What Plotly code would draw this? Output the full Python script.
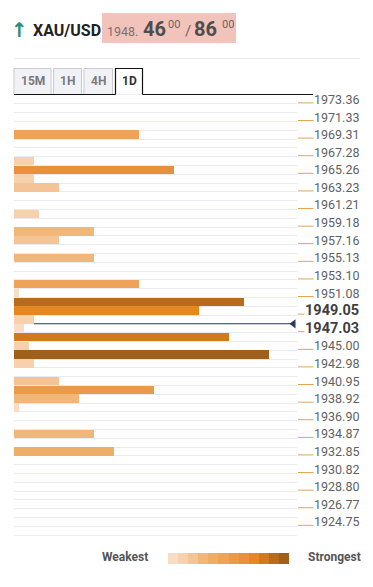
import plotly.graph_objects as go

# ---------------- data ----------------
bar_levels = [1969.31, 1966.27, 1965.26, 1964.25, 1963.23, 1960.20, 1958.17, 1957.16,
              1955.13, 1952.09, 1951.08, 1950.07, 1949.05, 1948.04, 1947.03, 1946.02,
              1945.00, 1943.99, 1942.98, 1940.95, 1939.94, 1938.92, 1937.91, 1934.87,
              1932.85]
bar_strength = [25, 4, 32, 4, 9, 5, 16, 9,
                16, 25, 1, 46, 37, 4, 2, 43,
                3, 51, 4, 9, 28, 13, 1, 16,
                20]
tick_labels = ["1973.36", "1971.33", "1969.31", "1967.28", "1965.26", "1963.23", "1961.21",
               "1959.18", "1957.16", "1955.13", "1953.10", "1951.08", "1949.05", "1947.03",
               "1945.00", "1942.98", "1940.95", "1938.92", "1936.90", "1934.87", "1932.85",
               "1930.82", "1928.80", "1926.77", "1924.75"]
bold_labels = ["1949.05", "1947.03"]
price_marker_level = 1947.54
price_marker_start = 4
tabs = ["15M", "1H", "4H", "1D"]
active_tab = "1D"
symbol = "XAU/USD"
bid_big, bid_small, ask_big, ask_small, price_head = "46", "00", "86", "00", "1948."

palette = ["#f9dcc4", "#f7d0ae", "#f4c497", "#f1b779", "#efae68", "#eda45a",
           "#ea9b4a", "#e8913a", "#e58824", "#d07a1e", "#b66c1b", "#a06019"]

# ---------------- geometry helpers (layout only) ----------------
# the page body has an 8px margin, so the figure starts at (8, 8)
W, H = 373, 587
BODY = 8
ML, MR, MT, MB = 14, 76, 95, 20          # in page pixels
PW, PH = W - ML - MR, H - MT - MB
def px(x):
    return (x - ML) / PW
def py(y):
    return (H - MB - y) / PH

ROW = 1.01271
n_rows = 50
tick_vals = [float(t) for t in tick_labels]
y_top = tick_vals[0] + ROW / 2
y_bot = y_top - n_rows * ROW
vmax = max(bar_strength)
bar_colors = [palette[int(round(v / vmax * (len(palette) - 1)))] for v in bar_strength]

fig = go.Figure()
fig.add_trace(go.Bar(
    x=bar_strength, y=bar_levels, orientation="h", width=ROW * 0.96,
    marker=dict(color=bar_colors, line=dict(width=0)),
    hoverinfo="skip", showlegend=False))

x_max = (297 - ML) / 5.0
fig.add_trace(go.Scatter(
    x=[price_marker_start, x_max - 0.7], y=[price_marker_level, price_marker_level],
    mode="lines", line=dict(color="#2c3d5b", width=1.1),
    hoverinfo="skip", showlegend=False))
fig.add_trace(go.Scatter(
    x=[x_max - 0.7], y=[price_marker_level], mode="markers",
    marker=dict(symbol="triangle-left", size=8, color="#2c3d5b"),
    hoverinfo="skip", showlegend=False))

# legend gradient
fig.add_trace(go.Heatmap(
    z=[list(range(len(palette)))], x=list(range(len(palette))), y=[0],
    colorscale=[[i / (len(palette) - 1), c] for i, c in enumerate(palette)],
    zmin=0, zmax=len(palette) - 1, showscale=False, hoverinfo="skip",
    xaxis="x2", yaxis="y2"))

shapes = []
annotations = []

# right axis underline ticks and labels
for lab, v in zip(tick_labels, tick_vals):
    shapes.append(dict(type="line", xref="paper", yref="y", ysizemode="pixel",
                       yanchor=v, y0=-3.5, y1=-3.5, x0=px(298), x1=px(314),
                       line=dict(color="#e0a452", width=1)))
    is_bold = lab in bold_labels
    annotations.append(dict(
        xref="paper", yref="y", x=px(360), y=v, xanchor="right", yanchor="middle",
        text=("<b>%s</b>" % lab) if is_bold else lab, showarrow=False,
        bgcolor="white", borderpad=0,
        font=dict(family="Roboto", size=14.5 if is_bold else 12.5,
                  color="#3f3f3f" if is_bold else "#5f5f5f")))

# header
annotations += [
    dict(xref="paper", yref="paper", x=px(19.5), y=py(30), text="<b>↑</b>", showarrow=False,
         xanchor="center", yanchor="middle",
         font=dict(family="DejaVu Sans", size=20, color="#2a8c7a")),
    dict(xref="paper", yref="paper", x=px(31), y=py(30), text="<b>%s</b>" % symbol,
         showarrow=False, xanchor="left", yanchor="middle",
         font=dict(family="Roboto", size=16, color="#222222")),
    dict(xref="paper", yref="paper", x=px(105), y=py(31.5), text=price_head, showarrow=False,
         xanchor="left", yanchor="middle", font=dict(family="Roboto", size=12.5, color="#7d6f6c")),
    dict(xref="paper", yref="paper", x=px(141), y=py(29), text="<b>%s</b>" % bid_big,
         showarrow=False, xanchor="left", yanchor="middle",
         font=dict(family="Roboto", size=20, color="#4d4d4d")),
    dict(xref="paper", yref="paper", x=px(166), y=py(24), text=bid_small, showarrow=False,
         xanchor="left", yanchor="middle", font=dict(family="Roboto", size=11, color="#666666")),
    dict(xref="paper", yref="paper", x=px(183), y=py(31), text="/", showarrow=False,
         xanchor="left", yanchor="middle", font=dict(family="Roboto", size=15, color="#666666")),
    dict(xref="paper", yref="paper", x=px(192), y=py(29), text="<b>%s</b>" % ask_big,
         showarrow=False, xanchor="left", yanchor="middle",
         font=dict(family="Roboto", size=20, color="#4d4d4d")),
    dict(xref="paper", yref="paper", x=px(220), y=py(24), text=ask_small, showarrow=False,
         xanchor="left", yanchor="middle", font=dict(family="Roboto", size=11, color="#666666")),
]
shapes.append(dict(type="rect", xref="paper", yref="paper", x0=px(102), x1=px(236),
                   y0=py(43), y1=py(13), fillcolor="#f2c3bb", line=dict(width=0), layer="below"))
shapes.append(dict(type="line", xref="paper", yref="paper", x0=px(14), x1=px(360),
                   y0=py(58.5), y1=py(58.5), line=dict(color="#e9e9ec", width=1)))

# tabs
tab_x = [(14, 51), (53.5, 81.5), (84, 112.5), (115.5, 142.5)]
for name, (a, b) in zip(tabs, tab_x):
    if name == active_tab:
        shapes.append(dict(type="path", xref="paper", yref="paper",
                           path="M %f,%f L %f,%f L %f,%f L %f,%f" % (
                               px(a), py(94.5), px(a), py(68.5), px(b), py(68.5), px(b), py(94.5)),
                           line=dict(color="#111111", width=1.2)))
        col = "#333333"
    else:
        shapes.append(dict(type="rect", xref="paper", yref="paper", x0=px(a), x1=px(b),
                           y0=py(94.5), y1=py(68.5), fillcolor="#f1f2f5",
                           line=dict(color="#c9c9cf", width=1)))
        col = "#7a7a7a"
    annotations.append(dict(xref="paper", yref="paper", x=px((a + b) / 2), y=py(81.5),
                            text="<b>%s</b>" % name, showarrow=False, xanchor="center",
                            yanchor="middle", font=dict(family="Roboto", size=12, color=col)))
shapes.append(dict(type="line", xref="paper", yref="paper", x0=px(14), x1=px(115.5),
                   y0=py(94.5), y1=py(94.5), line=dict(color="#111111", width=1.2)))
shapes.append(dict(type="line", xref="paper", yref="paper", x0=px(142.5), x1=px(313),
                   y0=py(94.5), y1=py(94.5), line=dict(color="#111111", width=1.2)))

# legend labels
annotations += [
    dict(xref="paper", yref="paper", x=px(150), y=py(557), text="<b>Weakest</b>",
         showarrow=False, xanchor="right", yanchor="middle",
         font=dict(family="Roboto", size=12, color="#555555")),
    dict(xref="paper", yref="paper", x=px(306), y=py(557), text="<b>Strongest</b>",
         showarrow=False, xanchor="left", yanchor="middle",
         font=dict(family="Roboto", size=12, color="#555555")),
]

fig.update_layout(
    width=W - BODY, height=H - BODY,
    margin=dict(l=ML - BODY, r=MR, t=MT - BODY, b=MB),
    paper_bgcolor="white", plot_bgcolor="white", bargap=0,
    xaxis=dict(range=[0, x_max], showticklabels=False, showgrid=False, zeroline=False,
               ticks="", showline=True, mirror=True, linecolor="#eceef2", linewidth=1,
               fixedrange=True),
    yaxis=dict(range=[y_bot, y_top], domain=[py(535), 1], showticklabels=False,
               tickmode="linear", tick0=y_bot, dtick=ROW, ticks="",
               showgrid=True, gridcolor="#e7eaf0", gridwidth=1.3, zeroline=False,
               showline=False, fixedrange=True),
    xaxis2=dict(domain=[px(168), px(289)], anchor="y2", visible=False,
                range=[-0.5, len(palette) - 0.5]),
    yaxis2=dict(domain=[py(564), py(553)], anchor="x2", visible=False, range=[-0.5, 0.5]),
    shapes=shapes, annotations=annotations, showlegend=False,
)

fig.write_html("out.html")
